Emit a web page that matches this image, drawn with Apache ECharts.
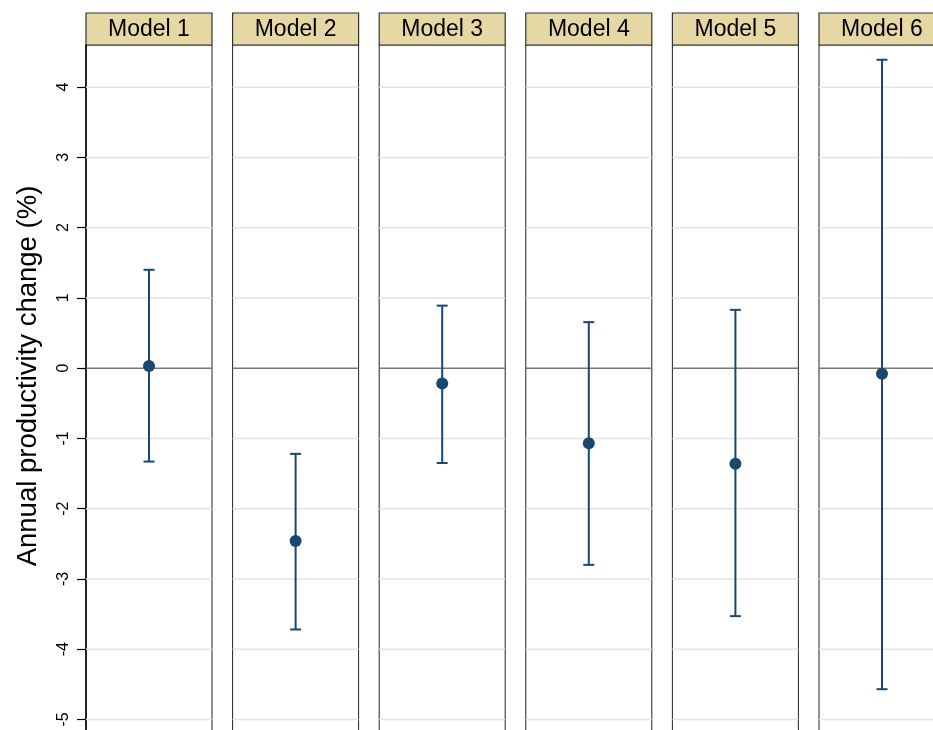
<!DOCTYPE html>
<html>
<head>
<meta charset="utf-8">
<title>Annual productivity change by model</title>
<script src="https://cdn.jsdelivr.net/npm/echarts@6/dist/echarts.min.js"></script>
<style>
  html, body { margin: 0; padding: 0; background: #fff; }
  #chart { width: 933px; height: 730px; }
</style>
</head>
<body>
<div id="chart"></div>
<script>
// Point estimates with 95% confidence intervals, one panel per model
const models = ['Model 1', 'Model 2', 'Model 3', 'Model 4', 'Model 5', 'Model 6'];
const estimates = [0.03, -2.46, -0.22, -1.07, -1.36, -0.08];
const lowerCI = [-1.33, -3.72, -1.35, -2.80, -3.53, -4.57];
const upperCI = [1.40, -1.22, 0.89, 0.655, 0.83, 4.39];
const yTicks = [-5, -4, -3, -2, -1, 0, 1, 2, 3, 4];

const FONT = "'Liberation Sans', Arial, Helvetica, sans-serif";
const NAVY = '#1a476f';
const Y_MIN = -5.2, Y_MAX = 4.6;
const PX_PER_UNIT = 70.25;
const PANEL_W = 126, PANEL_STEP = 146.6, FIRST_LEFT = 86;
const PLOT_TOP = 45, STRIP_TOP = 13, STRIP_H = 32;
const panelLeft = i => FIRST_LEFT + i * PANEL_STEP;

const grids = [], xAxes = [], yAxes = [], series = [], graphics = [];

models.forEach((name, i) => {
  grids.push({
    left: panelLeft(i), top: PLOT_TOP, width: PANEL_W,
    height: (Y_MAX - Y_MIN) * PX_PER_UNIT,
    outerBoundsMode: 'none',
    show: true, backgroundColor: '#fff', borderColor: '#222', borderWidth: 1
  });
  xAxes.push({ gridIndex: i, type: 'value', min: -1, max: 1, show: false });
  const first = i === 0;
  yAxes.push({
    gridIndex: i, type: 'value', min: Y_MIN, max: Y_MAX,
    axisLine: { show: first, onZero: false, lineStyle: { color: '#000', width: 1.5 } },
    axisTick: { show: first, customValues: yTicks, length: 9, lineStyle: { color: '#000', width: 1.2 } },
    axisLabel: {
      show: first, customValues: yTicks, rotate: 90, margin: 14,
      color: '#000', fontSize: 16, fontFamily: FONT
    },
    splitLine: { show: false }
  });

  // light horizontal gridlines at each tick, and a darker reference line at zero
  series.push({
    type: 'custom', xAxisIndex: i, yAxisIndex: i, z: 1, silent: true,
    data: yTicks.map(v => [0, v]),
    renderItem: (params, api) => {
      const v = api.value(1);
      const cs = params.coordSys;
      const y = api.coord([0, v])[1];
      return {
        type: 'line',
        shape: { x1: cs.x, y1: y, x2: cs.x + cs.width, y2: y },
        style: { stroke: v === 0 ? '#777' : '#e3e3e3', lineWidth: 1.5 }
      };
    }
  });

  // confidence interval with end caps
  series.push({
    type: 'custom', xAxisIndex: i, yAxisIndex: i, z: 3, silent: true,
    data: [[0, lowerCI[i], upperCI[i]]],
    encode: { x: 0, y: [1, 2] },
    renderItem: (params, api) => {
      const lo = api.coord([api.value(0), api.value(1)]);
      const hi = api.coord([api.value(0), api.value(2)]);
      const cap = 5.5;
      const st = { stroke: NAVY, lineWidth: 2 };
      return {
        type: 'group',
        children: [
          { type: 'line', shape: { x1: hi[0], y1: hi[1], x2: lo[0], y2: lo[1] }, style: st },
          { type: 'line', shape: { x1: hi[0] - cap, y1: hi[1], x2: hi[0] + cap, y2: hi[1] }, style: st },
          { type: 'line', shape: { x1: lo[0] - cap, y1: lo[1], x2: lo[0] + cap, y2: lo[1] }, style: st }
        ]
      };
    }
  });

  // point estimate
  series.push({
    type: 'scatter', xAxisIndex: i, yAxisIndex: i, z: 4, silent: true,
    symbol: 'circle', symbolSize: 12,
    itemStyle: { color: NAVY, opacity: 1 },
    data: [[0, estimates[i]]]
  });

  // panel header strip
  graphics.push({
    type: 'group',
    children: [
      {
        type: 'rect',
        shape: { x: panelLeft(i), y: STRIP_TOP, width: PANEL_W, height: STRIP_H },
        style: { fill: '#e6d8a5', stroke: '#333', lineWidth: 1.2 }
      },
      {
        type: 'text',
        x: panelLeft(i) + PANEL_W / 2, y: STRIP_TOP + STRIP_H / 2 + 1,
        style: {
          text: name, fill: '#000', font: '23px ' + FONT,
          textAlign: 'center', textVerticalAlign: 'middle'
        }
      }
    ]
  });
});

// vertical axis title
graphics.push({
  type: 'text', x: 28, y: 376, rotation: Math.PI / 2,
  style: {
    text: 'Annual productivity change (%)', fill: '#000', font: '27.5px ' + FONT,
    textAlign: 'center', textVerticalAlign: 'middle'
  }
});

const chart = echarts.init(document.getElementById('chart'), null, { renderer: 'canvas' });
chart.setOption({
  animation: false,
  backgroundColor: '#fff',
  grid: grids,
  xAxis: xAxes,
  yAxis: yAxes,
  series: series,
  graphic: graphics
});
</script>
</body>
</html>
